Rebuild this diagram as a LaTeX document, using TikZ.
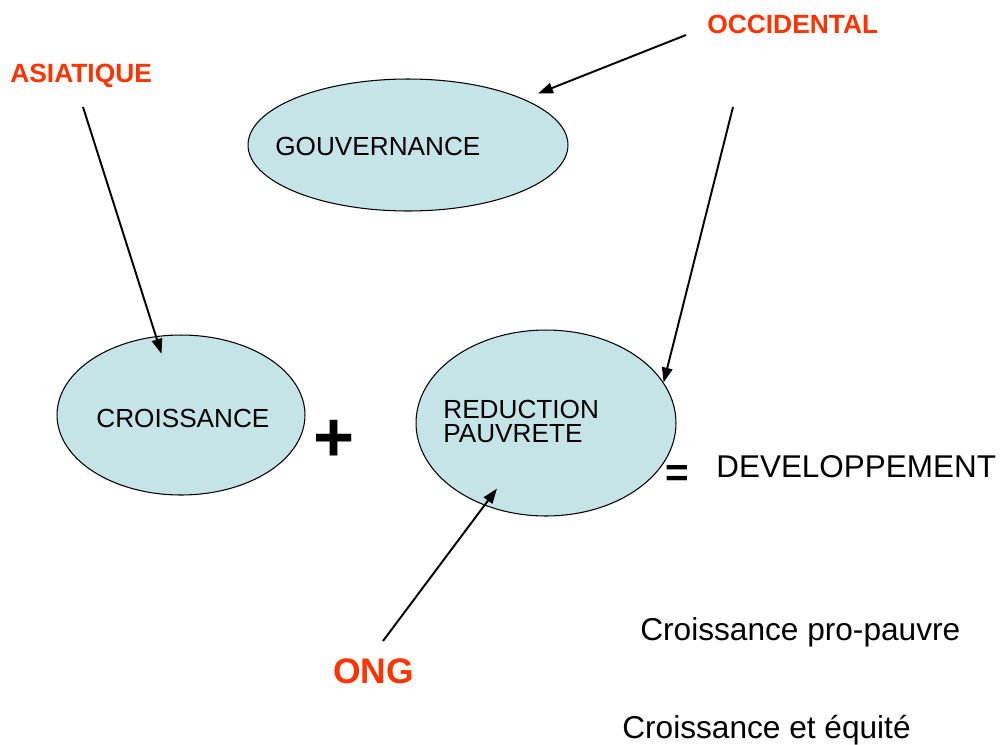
\documentclass[tikz,border=0pt]{standalone}
\usepackage{fontspec}
\setmainfont{Liberation Sans}
\usetikzlibrary{arrows.meta,shapes.geometric}
\definecolor{bleuclair}{RGB}{197,228,232}
\definecolor{rouge}{RGB}{255,51,0}

\begin{document}
\begin{tikzpicture}[x=0.02cm,y=-0.02cm,
  bulle/.style={ellipse,draw,line width=0.6pt,fill=bleuclair,inner sep=0pt},
  mot/.style={anchor=base west,inner sep=0pt,font=\fontsize{14.9}{17}\selectfont},
  grand/.style={anchor=base west,inner sep=0pt,font=\fontsize{18}{21}\selectfont},
  titre/.style={anchor=base west,inner sep=0pt,text=rouge,font=\fontsize{15}{18}\selectfont\bfseries},
  fleche/.style={line width=1.1pt,-{Triangle[length=8.5pt,width=6pt]}}]
  \useasboundingbox (0,0) rectangle (1000,744);
  \node[bulle,minimum width=6.4cm,minimum height=2.64cm] (gouv) at (408,145) {};
  \node[bulle,minimum width=4.96cm,minimum height=3.2cm] (croiss) at (181,415) {};
  \node[bulle,minimum width=5.2cm,minimum height=3.72cm] (reduc) at (546,423) {};
  \node[mot] (tgouv) at (275,155) {GOUVERNANCE};
  \node[mot] (tcroiss) at (96,427) {CROISSANCE};
  \node[mot] (treduc) at (443,418) {REDUCTION};
  \node[mot] (tpauv) at (443,442) {PAUVRETE};
  \node[inner sep=0pt,font=\fontsize{40}{40}\selectfont\bfseries] (plus) at (334,441) {+};
  \node[inner sep=0pt,font=\fontsize{23}{23}\selectfont\bfseries] (egal) at (677,476) {=};
  \node[grand,font=\fontsize{17.9}{21}\selectfont] (dev) at (716,477) {DEVELOPPEMENT};
  \node[titre] (occ) at (707,33) {OCCIDENTAL};
  \node[titre] (asia) at (10,82) {ASIATIQUE};
  \node[titre,font=\fontsize{20.2}{24}\selectfont\bfseries] (ong) at (333,683) {ONG};
  \node[grand] (propauvre) at (640,640) {Croissance pro-pauvre};
  \node[grand] (equite) at (622,738) {Croissance et équité};
  \coordinate (occq) at (686,35);
  \coordinate (occr) at (733,107);
  \coordinate (asiq) at (83,107);
  \coordinate (ongq) at (383,641);
  \draw[fleche,shorten >=0.3cm] (occq) -- (gouv);
  \draw[fleche] (occr) -- (reduc.19);
  \draw[fleche,shorten >=-0.37cm] (asiq) -- (croiss);
  \draw[fleche,shorten >=-0.42cm] (ongq) -- (reduc);
\end{tikzpicture}
\end{document}
